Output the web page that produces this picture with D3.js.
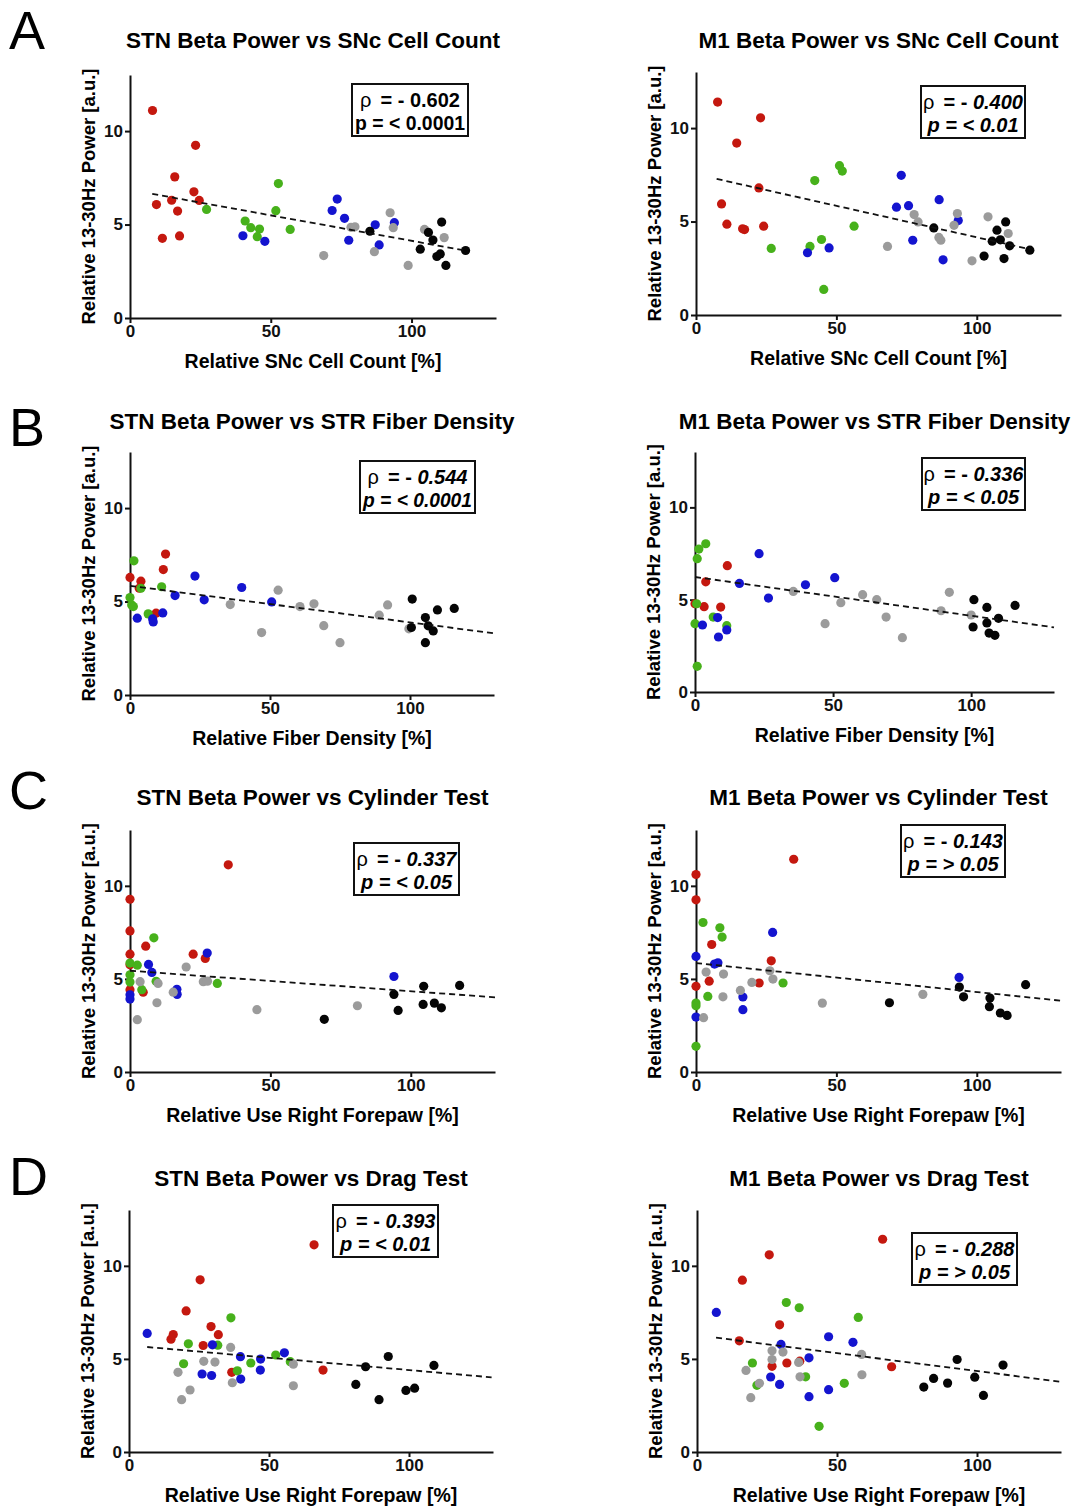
<!DOCTYPE html>
<html lang="en">
<head>
<meta charset="UTF-8">
<script src="https://d3js.org/d3.v7.min.js"></script>
<style>
body {margin: 0; background: white;}
svg {display: block; font-family: "Liberation Sans", Arial, sans-serif;}
.tick text {font-size: 17px; font-weight: bold; fill: #111;}
.domain, .tick line {stroke: #111; stroke-width: 2px;}
</style>
</head>
<body>
<svg width="1072" height="1508"></svg>
<script>
// groups in each panel: red, green, blue, gray, black ; points are [x, y]
const stnSnc = [
  [[8.0,11.1],[9.4,6.07],[11.5,4.26],[15.9,7.55],[14.8,6.3],[16.9,5.72],[17.6,4.39],[23.3,9.24],[22.7,6.75],[24.6,6.29]],
  [[27.2,5.81],[40.9,5.19],[42.9,4.83],[46.0,4.76],[45.2,4.35],[52.7,7.19],[51.8,5.74],[56.9,4.74]],
  [[40.1,4.40],[47.9,4.10],[73.6,6.36],[71.8,5.75],[76.2,5.33],[77.7,4.16],[87.1,4.99],[88.5,3.91],[93.9,5.10]],
  [[68.8,3.34],[78.5,4.85],[79.9,4.88],[86.8,3.55],[92.4,5.63],[93.5,4.83],[98.8,2.81],[104.6,4.74],[111.6,4.30]],
  [[85.2,4.64],[103.1,3.68],[106.0,4.58],[107.6,4.17],[109.0,3.29],[110.2,3.43],[110.7,5.13],[112.2,2.81],[119.2,3.61]]
];
const m1Snc = [
  [[7.7,11.39],[9.1,5.94],[11.0,4.86],[14.5,9.20],[16.6,4.61],[17.3,4.57],[22.4,6.80],[23.0,10.55],[24.1,4.75]],
  [[26.8,3.56],[40.6,3.67],[42.3,7.19],[44.7,4.04],[45.5,1.37],[51.1,7.99],[52.1,7.70],[56.3,4.75]],
  [[39.7,3.33],[47.4,3.59],[71.4,5.77],[73.1,7.47],[75.7,5.85],[77.2,4.0],[86.6,6.17],[88.0,2.95],[93.4,5.05]],
  [[68.2,3.67],[77.7,5.37],[79.1,4.98],[86.5,4.15],[87.2,4.0],[91.9,4.80],[93.1,5.43],[98.3,2.90],[104.0,5.25],[111.2,4.36]],
  [[84.7,4.66],[102.6,3.15],[105.5,3.95],[107.2,4.54],[108.4,4.02],[109.7,3.02],[110.3,4.98],[111.7,3.70],[118.9,3.47]]
];
const stnStr = [
  [[0,6.29],[3.3,5.71],[3.9,6.09],[11.9,6.71],[12.7,7.54],[9.3,4.38]],
  [[1.4,7.18],[0,5.21],[0.6,4.82],[1.2,4.73],[3.9,5.71],[6.5,4.34],[11.3,5.79]],
  [[2.6,4.11],[8.1,4.07],[8.3,3.91],[11.7,4.39],[16.1,5.32],[23.2,6.36],[26.5,5.09],[39.9,5.75],[50.6,4.98]],
  [[35.8,4.84],[47.0,3.34],[52.9,5.61],[60.7,4.73],[65.7,4.88],[69.2,3.71],[75.0,2.80],[89.0,4.27],[92.0,4.82],[99.6,3.54]],
  [[100.8,5.13],[100.5,3.61],[105.5,4.14],[105.5,2.80],[106.5,3.70],[108.3,3.43],[109.8,4.55],[115.8,4.63]]
];
const m1Str = [
  [[0,4.78],[3.3,4.62],[3.9,5.97],[9.3,4.60],[11.7,6.84]],
  [[0.8,7.22],[1.4,7.74],[3.9,8.03],[0,3.70],[0.6,4.78],[0.8,1.39],[6.6,4.06],[11.5,3.59]],
  [[2.7,3.63],[8.2,4.03],[8.5,2.98],[11.5,3.36],[16.1,5.88],[23.2,7.49],[26.6,5.09],[40.0,5.81],[50.6,6.19]],
  [[35.6,5.45],[47.1,3.70],[52.8,4.84],[60.7,5.27],[65.8,5.0],[69.2,4.06],[75.1,2.94],[89.1,4.40],[92.1,5.40],[100,4.17]],
  [[101.0,5.0],[100.7,3.52],[105.7,4.58],[105.7,3.74],[106.5,3.19],[108.6,3.07],[109.9,3.99],[115.9,4.69]]
];
const stnCyl = [
  [[0,9.28],[0,7.58],[0,6.33],[0,5.76],[0,4.42],[4.7,4.29],[5.6,6.76],[22.5,6.33],[26.8,6.10],[35.0,11.13]],
  [[0,5.85],[0,5.22],[0,4.83],[2.6,5.74],[4.2,4.42],[8.5,7.21],[9.3,4.87],[31.1,4.76]],
  [[0,4.15],[0,3.92],[6.6,5.78],[7.8,5.35],[16.7,4.44],[16.8,4.17],[27.5,6.39],[94.0,5.13]],
  [[2.6,2.81],[3.6,4.85],[9.6,3.72],[10.0,4.76],[15.4,4.29],[20.0,5.64],[26.1,4.85],[27.6,4.88],[45.2,3.35],[81.0,3.56]],
  [[69.2,2.83],[94.0,4.17],[95.5,3.31],[104.6,4.60],[104.4,3.63],[108.4,3.70],[110.9,3.45],[117.4,4.65]]
];
const m1Cyl = [
  [[0,10.61],[0,9.25],[0,4.60],[4.7,4.88],[5.6,6.85],[22.5,4.78],[26.8,5.97],[34.8,11.43]],
  [[0,3.70],[0,3.56],[0,1.38],[2.5,8.03],[4.2,4.06],[8.5,7.75],[9.3,7.25],[31.0,4.78]],
  [[0,6.21],[0,2.95],[6.6,5.80],[7.8,5.87],[16.7,4.03],[16.7,3.35],[27.3,7.50],[93.7,5.08]],
  [[2.7,2.92],[3.6,5.37],[9.6,4.04],[9.8,5.26],[15.8,4.38],[19.9,4.81],[26.3,5.44],[27.4,4.99],[45.0,3.70],[80.8,4.17]],
  [[68.9,3.72],[93.8,4.56],[95.3,4.04],[104.7,3.97],[104.5,3.51],[108.4,3.17],[110.8,3.04],[117.4,4.69]]
];
const stnDrag = [
  [[15.0,6.06],[15.8,6.31],[20.4,7.58],[25.4,9.25],[26.5,5.72],[29.3,6.74],[31.9,6.30],[36.7,4.28],[66.1,11.13],[69.3,4.40]],
  [[19.5,4.74],[21.2,5.81],[31.7,5.74],[36.4,7.21],[38.7,4.36],[43.5,4.78],[52.4,5.21],[57.6,4.85]],
  [[6.5,6.37],[26.1,4.19],[29.5,4.11],[29.8,5.76],[39.8,5.12],[39.9,3.92],[47.0,4.99],[46.9,4.40],[55.5,5.33]],
  [[17.5,4.28],[18.8,2.81],[21.8,3.33],[26.7,4.87],[30.7,4.83],[36.3,5.62],[36.9,3.72],[58.7,4.72],[58.7,3.56]],
  [[81.0,3.63],[84.5,4.58],[89.3,2.81],[92.6,5.13],[98.9,3.31],[102.0,3.43],[108.9,4.65]]
];
const m1Drag = [
  [[15.1,5.97],[16.2,9.23],[25.8,10.59],[26.8,4.60],[29.5,6.83],[32.1,4.78],[36.7,4.88],[66.3,11.43],[69.5,4.58]],
  [[19.8,4.78],[21.4,3.58],[31.9,8.03],[36.5,7.75],[38.8,4.04],[43.6,1.38],[52.6,3.69],[57.6,7.23]],
  [[6.9,7.50],[26.3,4.03],[29.5,3.63],[30.0,5.78],[40.0,5.06],[40.0,2.97],[47.0,6.19],[47.0,3.35],[55.7,5.89]],
  [[17.5,4.38],[19.2,2.92],[22.3,3.69],[26.8,4.97],[26.8,5.44],[30.7,5.37],[36.3,4.81],[36.8,4.04],[58.8,5.24],[58.9,4.15]],
  [[81.0,3.49],[84.5,3.95],[89.5,3.70],[92.9,4.97],[99.2,4.02],[102.3,3.04],[109.3,4.67]]
];

// dashed fit lines: [x0, y0, x1, y1]
const fits = [
  [7.9,6.64,119.8,3.59], [7.35,7.28,118.9,3.52],
  [0,5.84,130,3.30],     [0,6.23,130,3.50],
  [0,5.44,130,4.01],     [0,5.85,130,3.83],
  [6.5,5.64,129.5,4.01], [6.8,6.14,130,3.77]
];
const rhos = ["0.602","0.400","0.544","0.336","0.337","0.143","0.393","0.288"];
const pvals = ["< 0.0001","< 0.01","< 0.0001","< 0.05","< 0.05","> 0.05","< 0.01","> 0.05"];

const titles = [
  "STN Beta Power vs SNc Cell Count", "M1 Beta Power vs SNc Cell Count",
  "STN Beta Power vs STR Fiber Density", "M1 Beta Power vs STR Fiber Density",
  "STN Beta Power vs Cylinder Test", "M1 Beta Power vs Cylinder Test",
  "STN Beta Power vs Drag Test", "M1 Beta Power vs Drag Test"
];
const xLabels = [
  "Relative SNc Cell Count [%]", "Relative SNc Cell Count [%]",
  "Relative Fiber Density [%]", "Relative Fiber Density [%]",
  "Relative Use Right Forepaw [%]", "Relative Use Right Forepaw [%]",
  "Relative Use Right Forepaw [%]", "Relative Use Right Forepaw [%]"
];
const yLabel = "Relative 13-30Hz Power [a.u.]";
const xTicks = [0, 50, 100];
const yTicks = [0, 5, 10];
const letters = ["A", "B", "C", "D"];

const panelData = [stnSnc, m1Snc, stnStr, m1Str, stnCyl, m1Cyl, stnDrag, m1Drag];
const colors = ["#c4180f", "#47b11b", "#1414cf", "#9b9b9b", "#050505"];

// page layout
const layout = [
  {left:130, bottom:318, w:366, h:243, box:[352,84,116]},
  {left:696, bottom:315, w:365, h:243, box:[921,86,104]},
  {left:130, bottom:695, w:364, h:243, box:[360,461,115]},
  {left:695, bottom:692, w:359, h:240, box:[922,458,103]},
  {left:130, bottom:1072, w:365, h:242, box:[354,843,105]},
  {left:696, bottom:1072, w:365, h:242, box:[901,825,104]},
  {left:129, bottom:1452, w:364, h:242, box:[333,1205,105]},
  {left:697, bottom:1452, w:364, h:242, box:[912,1233,105]}
];
const titleY = [48, 429, 805, 1186];
const letterY = [49, 446, 809, 1195];

const svg = d3.select("svg");

letters.forEach(function(l, i) {
  svg.append("text")
    .attr("x", 9).attr("y", letterY[i])
    .attr("font-size", 54)
    .text(l);
});

panelData.forEach(function(groups, i) {
  var L = layout[i];
  var xs = d3.scaleLinear().domain([0, 130]).range([L.left, L.left + L.w]);
  var ys = d3.scaleLinear().domain([0, 13]).range([L.bottom, L.bottom - L.h]);
  var g = svg.append("g");

  g.append("text")
    .attr("x", L.left + L.w / 2).attr("y", titleY[Math.floor(i / 2)])
    .attr("text-anchor", "middle")
    .attr("font-size", 22.5).attr("font-weight", "bold")
    .text(titles[i]);

  g.append("g")
    .attr("transform", "translate(0," + L.bottom + ")")
    .call(d3.axisBottom(xs).tickValues(xTicks).tickSize(5).tickSizeOuter(0).tickPadding(2));
  g.append("g")
    .attr("transform", "translate(" + L.left + ",0)")
    .call(d3.axisLeft(ys).tickValues(yTicks).tickSize(5).tickSizeOuter(0).tickPadding(2));

  g.append("text")
    .attr("x", L.left + L.w / 2).attr("y", L.bottom + 50)
    .attr("text-anchor", "middle")
    .attr("font-size", 19.5).attr("font-weight", "bold")
    .text(xLabels[i]);

  g.append("text")
    .attr("transform", "translate(" + (L.left - 35) + "," + (L.bottom - L.h / 2) + ") rotate(-90)")
    .attr("text-anchor", "middle")
    .attr("font-size", 18.5).attr("font-weight", "bold")
    .text(yLabel);

  groups.forEach(function(pts, gi) {
    g.append("g").selectAll("circle")
      .data(pts)
      .enter()
      .append("circle")
      .attr("cx", function(d) { return xs(d[0]); })
      .attr("cy", function(d) { return ys(d[1]); })
      .attr("r", 4.6)
      .style("fill", colors[gi]);
  });

  var f = fits[i];
  g.append("line")
    .attr("x1", xs(f[0])).attr("y1", ys(f[1]))
    .attr("x2", xs(f[2])).attr("y2", ys(f[3]))
    .attr("stroke", "#111").attr("stroke-width", 1.8)
    .attr("stroke-dasharray", "6,4");

  // stats box
  var bx = L.box[0], by = L.box[1], bw = L.box[2];
  var ital = i == 0 ? "normal" : "italic";
  g.append("rect")
    .attr("x", bx).attr("y", by).attr("width", bw).attr("height", 52)
    .attr("fill", "white").attr("stroke", "#111").attr("stroke-width", 2);
  var t1 = g.append("text")
    .attr("x", bx + bw / 2).attr("y", by + 23)
    .attr("text-anchor", "middle").attr("font-size", 20).attr("font-weight", "bold");
  t1.append("tspan").attr("font-weight", "normal").text("\u03c1");
  t1.append("tspan").attr("dx", 9).text("= - ");
  t1.append("tspan").attr("font-style", ital).text(rhos[i]);
  var t2 = g.append("text")
    .attr("x", bx + bw / 2).attr("y", by + 46)
    .attr("text-anchor", "middle").attr("font-size", 20).attr("font-weight", "bold")
    .attr("font-style", ital)
    .text("p = " + pvals[i]);
  [t1, t2].forEach(function(t) {
    var tw = t.node().getComputedTextLength();
    if (tw > bw - 6) t.attr("textLength", bw - 6).attr("lengthAdjust", "spacingAndGlyphs");
  });
});
</script>
</body>
</html>
